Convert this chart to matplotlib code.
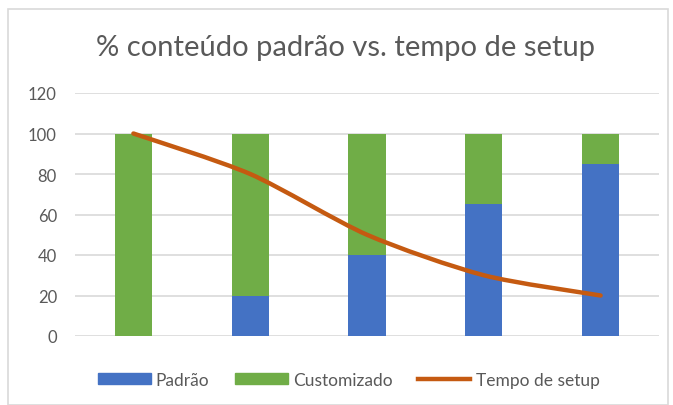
import matplotlib.pyplot as plt
from matplotlib.path import Path
from matplotlib.patches import PathPatch, Rectangle
from matplotlib.lines import Line2D
from matplotlib.patches import Patch

plt.rcParams['font.family'] = ['Lato', 'DejaVu Sans']

categories = ['1', '2', '3', '4', '5']
padrao = [0, 20, 40, 65, 85]
customizado = [100, 80, 60, 35, 15]
tempo_setup = [100, 80, 50, 30, 20]

blue = '#4472C4'
green = '#70AD47'
orange = '#C55A11'
text_gray = '#595959'

fig = plt.figure(figsize=(6.73, 4.06), dpi=100)
fig.patches.append(Rectangle((8 / 673, 0), 660 / 673, 396 / 406, transform=fig.transFigure,
                             fill=False, edgecolor='#D9D9D9', linewidth=1.2))
ax = fig.add_axes([75 / 673, (406 - 337) / 406, 584 / 673, 243 / 406])

x = list(range(len(categories)))
ax.bar(x, padrao, width=0.32, color=blue, zorder=2)
ax.bar(x, customizado, width=0.32, bottom=padrao, color=green, zorder=2)

# smoothed line (Excel style), bezier through the data points
pts = list(zip(x, tempo_setup))
verts = [pts[0]]
codes = [Path.MOVETO]
t = 0.13
for i in range(len(pts) - 1):
    p0 = pts[i - 1] if i > 0 else pts[i]
    p1 = pts[i]
    p2 = pts[i + 1]
    p3 = pts[i + 2] if i + 2 < len(pts) else pts[i + 1]
    c1 = (p1[0] + (p2[0] - p0[0]) * t, p1[1] + (p2[1] - p0[1]) * t)
    c2 = (p2[0] - (p3[0] - p1[0]) * t, p2[1] - (p3[1] - p1[1]) * t)
    verts += [c1, c2, p2]
    codes += [Path.CURVE4] * 3
ax.add_patch(PathPatch(Path(verts, codes), fill=False, edgecolor=orange, linewidth=3.2,
                       capstyle='round', joinstyle='round', zorder=3))

ax.set_xlim(-0.5, 4.5)
ax.set_ylim(0, 120)
ax.set_yticks(range(0, 121, 20))
ax.set_xticks([])
ax.yaxis.grid(True, color='#D9D9D9', linewidth=1.2, zorder=0)
ax.set_axisbelow(True)
for s in ax.spines.values():
    s.set_visible(False)
ax.tick_params(axis='y', length=0, pad=13, labelsize=12, labelcolor=text_gray)

fig.text(346 / 673, 1 - 48 / 406, '% conteúdo padrão vs. tempo de setup', ha='center', va='center',
         fontsize=21, color=text_gray)

handles = [Patch(color=blue, label='Padrão'), Patch(color=green, label='Customizado'),
           Line2D([], [], color=orange, linewidth=3.2, label='Tempo de setup')]
fig.legend(handles=handles, loc='center', bbox_to_anchor=(349 / 673, 1 - 381 / 406), ncol=3,
           frameon=False, fontsize=12.5, labelcolor=text_gray, handlelength=3.0,
           handleheight=0.6, handletextpad=0.3, columnspacing=1.5)

fig.savefig('out.png', dpi=100)
